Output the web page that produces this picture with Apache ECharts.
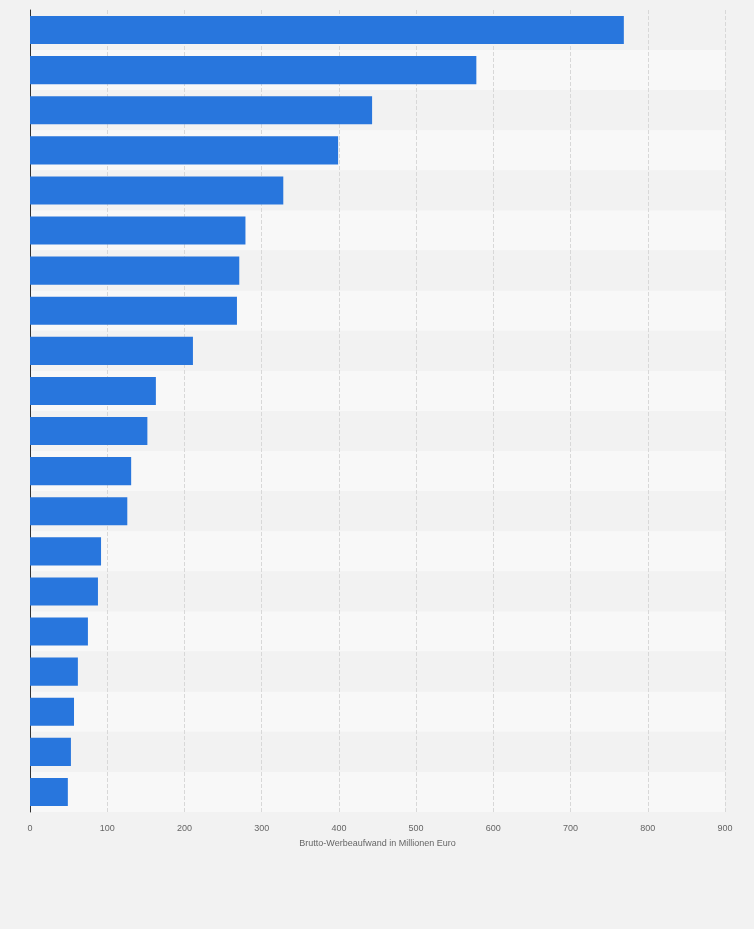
<!DOCTYPE html>
<html><head><meta charset="utf-8">
<script src="https://cdn.jsdelivr.net/npm/echarts@6/dist/echarts.min.js"></script>
<style>html,body{margin:0;padding:0;background:#f2f2f2}#c{width:754px;height:929px}</style>
</head><body><div id="c"></div>
<script>
const categories = ['1','2','3','4','5','6','7','8','9','10','11','12','13','14','15','16','17','18','19','20'];
const values = [769, 578, 443, 399, 328, 279, 271, 268, 211, 163, 152, 131, 126, 92, 88, 75, 62, 57, 53, 49];
const xTicks = [0,100,200,300,400,500,600,700,800,900];
const chart = echarts.init(document.getElementById('c'));
chart.setOption({
  backgroundColor:'#f2f2f2',
  grid:{left:30,right:29,top:10,bottom:117},
  xAxis:{type:'value',min:0,max:900,interval:100,
    name:'Brutto-Werbeaufwand in Millionen Euro',nameLocation:'middle',nameGap:27,
    nameTextStyle:{color:'#666',fontSize:9,fontFamily:'Arial, Liberation Sans'},
    axisLabel:{color:'#666',fontSize:9,fontFamily:'Arial, Liberation Sans',margin:12,formatter:v=>xTicks.includes(v)?String(v):''},
    splitLine:{show:true,lineStyle:{color:'#d8d8d8',type:'dashed'}},
    axisLine:{show:false},axisTick:{show:false}},
  yAxis:{type:'category',data:categories,inverse:true,
    axisLabel:{show:false},axisTick:{show:false},
    axisLine:{show:true,lineStyle:{color:'#333',width:1}},
    splitArea:{show:true,areaStyle:{color:['#f2f2f2','#f8f8f8']}}},
  series:[{type:'bar',data:values,barCategoryGap:'30%',itemStyle:{color:'#2876dd'}}]
});
</script></body></html>
